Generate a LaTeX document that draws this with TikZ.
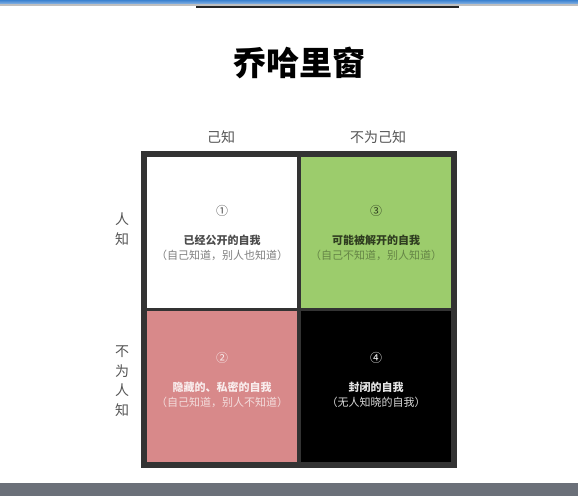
\documentclass[tikz,border=0pt]{standalone}
\usepackage{fontspec}
\setmainfont{Noto Sans CJK SC}
\definecolor{gridline}{HTML}{333333}
\definecolor{cellgreen}{HTML}{9CCC6C}
\definecolor{cellpink}{HTML}{D8898A}
\definecolor{barblue}{HTML}{3B82D0}
\definecolor{bargray}{HTML}{6B7079}
\definecolor{labgray}{HTML}{555555}
\tikzset{
  cell/.style={draw=none, minimum width=150pt, minimum height=151pt, inner sep=0pt, anchor=north west},
  numlab/.style={font=\fontsize{12}{14}\selectfont},
  ttl/.style={font=\fontsize{11}{13}\selectfont\bfseries},
  sub/.style={font=\fontsize{11}{13}\selectfont},
  axlab/.style={font=\fontsize{14}{19.5}\selectfont, text=labgray, align=center, inner sep=0pt},
}
\begin{document}
\begin{tikzpicture}[x=1pt,y=-1pt]
\useasboundingbox (0,0) rectangle (578,496);
\fill[white] (0,0) rectangle (578,496);
% top bar
\fill[top color=barblue, bottom color=barblue!60!white] (0,0) rectangle (578,4);
\fill[gray!50] (0,4) rectangle (578,5.5);
\draw[line width=1.5pt, black!85] (196,6.8) -- (459,6.8);
% bottom bar
\fill[bargray] (0,483) rectangle (578,496);
% title
\node[font=\fontsize{33}{36}\selectfont\bfseries] (title) at (299,63) {乔哈里窗};
% outer frame
\fill[gridline] (141,151) rectangle (457,468);
% cells
\node[cell, fill=white] (c1) at (147,157) {};
\node[cell, fill=cellgreen] (c3) at (301,157) {};
\node[cell, fill=cellpink] (c2) at (147,311) {};
\node[cell, fill=black] (c4) at (301,311) {};
% column labels
\node[axlab] (known) at (221,137) {己知};
\node[axlab] (unknown) at (378,137) {不为己知};
% row labels
\node[axlab] (others) at (122,229) {人\\知};
\node[axlab] (noothers) at (122,381) {不\\为\\人\\知};
% cell 1
\node[numlab, text=black!70] (n1) at (222,211) {①};
\node[ttl, text=black!70] (t1) at (222,240) {已经公开的自我};
\node[sub, text=black!50] (s1) at (222,255) {（自己知道，别人也知道）};
% cell 3
\node[numlab, text=black!70!cellgreen] (n3) at (376,211) {③};
\node[ttl, text=black!70!cellgreen] (t3) at (376,240) {可能被解开的自我};
\node[sub, text=black!35!cellgreen] (s3) at (376,255) {（自己不知道，别人知道）};
% cell 2
\node[numlab, text=white!85!cellpink] (n2) at (222,358) {②};
\node[ttl, text=white!85!cellpink] (t2) at (222,387) {隐藏的、私密的自我};
\node[sub, text=white!70!cellpink] (s2) at (222,402) {（自己知道，别人不知道）};
% cell 4
\node[numlab, text=white] (n4) at (376,358) {④};
\node[ttl, text=white!90!black] (t4) at (376,387) {封闭的自我};
\node[sub, text=white!85!black] (s4) at (376,402) {（无人知晓的自我）};
\end{tikzpicture}
\end{document}
